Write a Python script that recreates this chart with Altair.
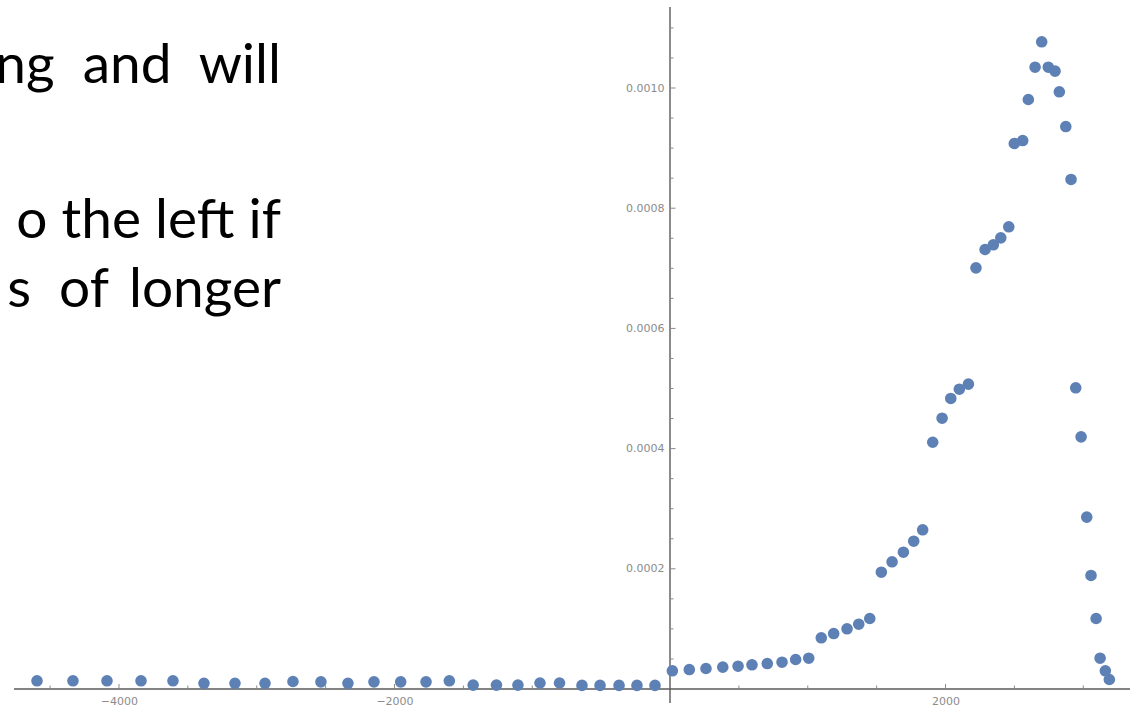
import altair as alt
import pandas as pd

# Sample positions and values of the distribution
x_vals = [
    -4595, -4334, -4087, -3840, -3608, -3383, -3158, -2940, -2737, -2534,
    -2338, -2149, -1955, -1771, -1602, -1429, -1260, -1104, -944, -802,
    -639, -508, -370, -240, -109,
    17, 140, 261, 383, 494, 595, 706, 813, 912, 1007,
    1098, 1188, 1285, 1370, 1450, 1534, 1612, 1694, 1769, 1834,
    1907, 1975, 2038, 2100, 2166, 2221, 2287, 2347, 2401, 2459,
    2499, 2560, 2601, 2650, 2698, 2746, 2795, 2826, 2873, 2911,
    2945, 2984, 3025, 3056, 3093, 3122, 3160, 3189,
]
y_vals = [
    0.0000137, 0.0000137, 0.0000137, 0.0000137, 0.0000137, 0.0000095, 0.0000095,
    0.0000095, 0.0000125, 0.0000119, 0.0000095, 0.0000119, 0.0000119, 0.0000119,
    0.0000137, 0.0000065, 0.0000065, 0.0000065, 0.0000100, 0.0000100,
    0.0000060, 0.0000060, 0.0000060, 0.0000060, 0.0000060,
    0.0000303, 0.0000324, 0.0000341, 0.0000363, 0.0000379, 0.0000403, 0.0000424,
    0.0000446, 0.0000491, 0.0000512,
    0.0000852, 0.0000923, 0.0001002, 0.0001078, 0.0001173,
    0.0001943, 0.0002117, 0.0002276, 0.0002459, 0.0002649,
    0.0004106, 0.0004506, 0.0004834, 0.0004988, 0.0005072,
    0.0007008, 0.0007313, 0.0007391, 0.0007507, 0.0007691,
    0.0009077, 0.0009126, 0.0009809, 0.0010346, 0.0010769,
    0.0010346, 0.0010280, 0.0009937, 0.0009359, 0.0008478,
    0.0005012, 0.0004196, 0.0002859, 0.0001889, 0.0001173,
    0.0000512, 0.0000303, 0.0000158,
]

# Axis ticks
x_major = [-4000, -2000, 2000]
x_minor = [-4500, -3500, -3000, -2500, -1500, -1000, -500, 500, 1000, 1500, 2500, 3000]
y_major = [0.0002, 0.0004, 0.0006, 0.0008, 0.0010]
y_minor = [round(0.00005 * k, 5) for k in range(1, 23) if k % 4 != 0]

# Slide text beside the plot (justified lines, so word gaps are widened)
text_lines = [
    "ng\u00a0\u00a0and\u00a0\u00a0will",
    "o the left if",
    "s\u00a0\u00a0of\u00a0\u2009longer",
]
text_baselines = [76, 231, 300]

W, H = 1116, 682
X0 = 656  # pixel position of x = 0 inside the plot
xscale = alt.Scale(domain=[-4762, 3339], nice=False, zero=False)
yscale = alt.Scale(domain=[0, 0.0011348], nice=False, zero=False)

axis_color = "#5a5a5a"
tick_color = "#8a8a8a"
label_color = "#8c8c8c"

pts = pd.DataFrame({"x": x_vals, "y": y_vals})

points = alt.Chart(pts).mark_circle(size=135, color="#5E81B5", opacity=1).encode(
    x=alt.X("x:Q", scale=xscale, title=None,
            axis=alt.Axis(values=x_major, format="d", domain=False, ticks=False, tickSize=0,
                          grid=False, labelPadding=6, labelFontSize=11, labelFont="DejaVu Sans",
                          labelColor=label_color)),
    y=alt.Y("y:Q", scale=yscale, title=None,
            axis=alt.Axis(values=y_major, format=".4f", domain=False, ticks=False, tickSize=0,
                          grid=False, offset=-X0, labelPadding=6, labelFontSize=11,
                          labelFont="DejaVu Sans", labelColor=label_color)),
)

one = pd.DataFrame({"a": [0]})

x_axis_line = alt.Chart(one).mark_rule(color=axis_color, strokeWidth=1.4).encode(
    x=alt.value(0), x2=alt.value(W), y=alt.value(H)
)
y_axis_line = alt.Chart(one).mark_rule(color=axis_color, strokeWidth=1.4).encode(
    x=alt.value(X0), y=alt.value(0), y2=alt.value(H + 14)
)

xt_major = alt.Chart(pd.DataFrame({"v": x_major})).mark_rule(color=tick_color, strokeWidth=1).encode(
    x=alt.X("v:Q", scale=xscale), y=alt.value(H), y2=alt.value(H - 5)
)
xt_minor = alt.Chart(pd.DataFrame({"v": x_minor})).mark_rule(color=tick_color, strokeWidth=1).encode(
    x=alt.X("v:Q", scale=xscale), y=alt.value(H), y2=alt.value(H - 3.5)
)
yt_major = alt.Chart(pd.DataFrame({"v": y_major})).mark_rule(color=tick_color, strokeWidth=1).encode(
    y=alt.Y("v:Q", scale=yscale), x=alt.value(X0), x2=alt.value(X0 + 5.5)
)
yt_minor = alt.Chart(pd.DataFrame({"v": y_minor})).mark_rule(color=tick_color, strokeWidth=1).encode(
    y=alt.Y("v:Q", scale=yscale), x=alt.value(X0), x2=alt.value(X0 + 3.5)
)

# one text mark per line, each at its own baseline, right edge flush
slide_layers = [
    alt.Chart(pd.DataFrame({"t": [t]})).mark_text(
        align="right", baseline="alphabetic", font="Lato", fontSize=55, color="#000000"
    ).encode(text="t:N", x=alt.value(267), y=alt.value(b))
    for t, b in zip(text_lines, text_baselines)
]

chart = alt.layer(
    x_axis_line, y_axis_line, xt_minor, xt_major, yt_minor, yt_major, points, *slide_layers
).properties(
    width=W, height=H,
    padding={"left": 14, "top": 7, "right": 4, "bottom": 19},
    autosize=alt.AutoSizeParams(type="none"),
    background="white",
).configure_view(strokeWidth=0)

chart.save("out.html", embed_options={"renderer": "svg", "actions": False})
